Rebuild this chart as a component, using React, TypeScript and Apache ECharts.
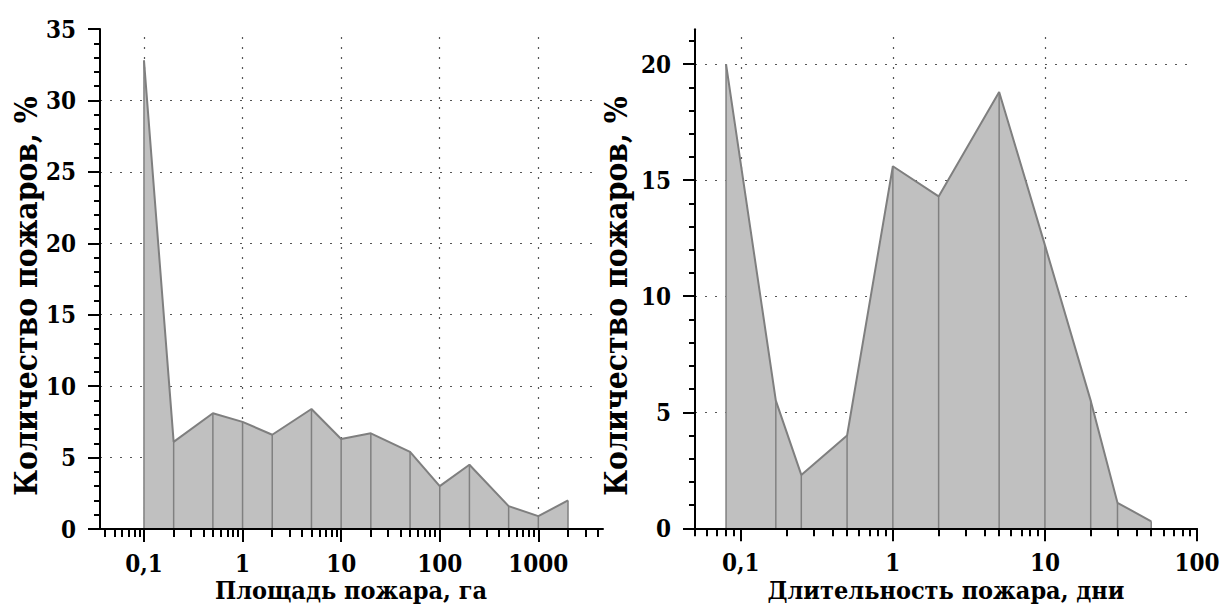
import React, { useEffect, useRef } from 'react';
import * as echarts from 'echarts';

// ---- data ----
const areaValues = [0.1, 0.2, 0.5, 1, 2, 5, 10, 20, 50, 100, 200, 500, 1000, 2000];
const areaShares = [32.8, 6.1, 8.1, 7.5, 6.6, 8.4, 6.3, 6.7, 5.4, 3.0, 4.5, 1.6, 0.9, 2.0];

const durationValues = [0.08, 0.17, 0.25, 0.5, 1, 2, 5, 10, 20, 30, 50];
const durationShares = [20.0, 5.5, 2.3, 4.0, 15.6, 14.3, 18.8, 12.2, 5.5, 1.1, 0.3];

const areaXTicks = [0.1, 1, 10, 100, 1000];
const durationXTicks = [0.1, 1, 10, 100];
const areaXGrid = [0.1, 1, 10, 100, 1000];
const durationXGrid = [0.1, 1, 10];
const areaYTicks = [0, 5, 10, 15, 20, 25, 30, 35];
const durationYTicks = [0, 5, 10, 15, 20];
const areaYGrid = [5, 10, 15, 20, 25, 30];
const durationYGrid = [5, 10, 15, 20];

const xTitleArea = 'Площадь пожара, га';
const xTitleDuration = 'Длительность пожара, дни';
const yTitle = 'Количество пожаров, %';

const FONT = '"DejaVu Serif Condensed", "DejaVu Serif", serif';
const TICK_FONT_SIZE = 24;
const lg = (v: number) => Math.log10(v);

function fmt(v: number): string {
  const r = Number(Math.pow(10, v).toPrecision(3));
  return r < 1 ? String(r).replace('.', ',') : String(Math.round(r));
}

function minorX(min: number, max: number): number[] {
  const out: number[] = [];
  for (let d = Math.floor(lg(min)); d <= Math.ceil(lg(max)); d++) {
    for (let k = 2; k <= 9; k++) {
      const v = k * Math.pow(10, d);
      if (v >= min && v <= max) out.push(lg(v));
    }
  }
  return out;
}

function minorY(max: number): number[] {
  const out: number[] = [];
  for (let v = 1; v <= max; v++) if (v % 5 !== 0) out.push(v);
  return out;
}

type Panel = {
  xs: number[];
  ys: number[];
  xMin: number; // log10
  xMax: number; // log10
  yMax: number;
  xTicks: number[];
  yTicks: number[];
  xGrid: number[];
  yGrid: number[];
  left: number;
  top: number;
  width: number;
  height: number;
  hGridWidth: number;
  vTop: number;
};

function build(p: Panel, g0: number) {
  const bottomY = p.top + p.height;
  const base = { outerBoundsMode: 'none', containLabel: false };
  const grids = [
    { ...base, left: p.left, top: p.top, width: p.width, height: p.height },
    { ...base, left: p.left, top: p.top, width: p.width, height: p.height },
    { ...base, left: p.left, top: p.vTop, width: p.width, height: bottomY - p.vTop },
    { ...base, left: p.left, top: p.top, width: p.hGridWidth, height: p.height },
  ];
  const xTL = p.xTicks.map(lg);
  const xGL = p.xGrid.map(lg);
  const realMin = Math.pow(10, p.xMin);
  const realMax = Math.pow(10, p.xMax);
  const minorXs = minorX(realMin, realMax);
  const minorYs = minorY(Math.floor(p.yMax));
  const dotted = { type: [2, 8] as any, color: '#555', width: 1.2 };
  const none = { show: false };
  const labelStyle = {
    color: '#000', fontFamily: FONT, fontWeight: 'bold', fontSize: TICK_FONT_SIZE,
  };
  const xAxes = [
    {
      type: 'value', gridIndex: g0, min: p.xMin, max: p.xMax, z: 5,
      axisLine: { show: true, onZero: false, lineStyle: { color: '#000', width: 2 } },
      axisTick: { show: true, length: 13, customValues: xTL, lineStyle: { color: '#000', width: 2 } },
      axisLabel: {
        show: true, customValues: xTL, margin: 22, formatter: (v: number) => fmt(v), ...labelStyle,
      },
      splitLine: none,
    },
    {
      type: 'value', gridIndex: g0 + 1, min: p.xMin, max: p.xMax, z: 5,
      axisLine: { show: false, onZero: false },
      axisTick: { show: true, length: 8, customValues: minorXs, lineStyle: { color: '#000', width: 2 } },
      axisLabel: none,
      splitLine: none,
    },
    {
      type: 'value', gridIndex: g0 + 2, min: p.xMin, max: p.xMax, z: 0,
      axisLine: { show: false, onZero: false },
      axisTick: { show: false, customValues: xGL },
      axisLabel: none,
      splitLine: { show: true, customValues: xGL, lineStyle: dotted },
    },
    {
      type: 'value', gridIndex: g0 + 3, min: p.xMin, max: p.xMax, show: false,
    },
  ];
  const yAxes = [
    {
      type: 'value', gridIndex: g0, min: 0, max: p.yMax, z: 5,
      axisLine: { show: true, onZero: false, lineStyle: { color: '#000', width: 2 } },
      axisTick: { show: true, length: 12, customValues: p.yTicks, lineStyle: { color: '#000', width: 2 } },
      axisLabel: { show: true, customValues: p.yTicks, margin: 24, ...labelStyle },
      splitLine: none,
    },
    {
      type: 'value', gridIndex: g0 + 1, min: 0, max: p.yMax, z: 5,
      axisLine: { show: false, onZero: false },
      axisTick: { show: true, length: 6, customValues: minorYs, lineStyle: { color: '#000', width: 2 } },
      axisLabel: none,
      splitLine: none,
    },
    { type: 'value', gridIndex: g0 + 2, min: 0, max: p.yMax, show: false },
    {
      type: 'value', gridIndex: g0 + 3, min: 0, max: p.yMax, z: 0,
      axisLine: { show: false, onZero: false },
      axisTick: { show: false, customValues: p.yGrid },
      axisLabel: none,
      splitLine: { show: true, customValues: p.yGrid, lineStyle: dotted },
    },
  ];
  const data = p.xs.map((x, i) => [lg(x), p.ys[i]]);
  const series = [
    {
      type: 'line', xAxisIndex: g0, yAxisIndex: g0, data, symbol: 'none', silent: true, z: 2,
      lineStyle: { color: '#7f7f7f', width: 2 },
      areaStyle: { color: '#c0c0c0', opacity: 1 },
    },
    {
      type: 'bar', xAxisIndex: g0, yAxisIndex: g0, data, barWidth: 1.5, silent: true, z: 3,
      itemStyle: { color: '#808080' },
    },
  ];
  return { grids, xAxes, yAxes, series };
}

export default function App() {
  const ref = useRef<HTMLDivElement>(null);
  useEffect(() => {
    if (!ref.current) return;
    const chart = echarts.init(ref.current, null, { renderer: 'svg' });
    const a = build(
      {
        xs: areaValues, ys: areaShares, xMin: -1.446, xMax: 3.656, yMax: 35,
        xTicks: areaXTicks, yTicks: areaYTicks, xGrid: areaXGrid, yGrid: areaYGrid,
        left: 100, top: 29, width: 503, height: 500, hGridWidth: 497, vTop: 37,
      },
      0,
    );
    const b = build(
      {
        xs: durationValues, ys: durationShares, xMin: lg(0.05), xMax: 2, yMax: 21.5,
        xTicks: durationXTicks, yTicks: durationYTicks, xGrid: durationXGrid, yGrid: durationYGrid,
        left: 695, top: 29.3, width: 502, height: 499, hGridWidth: 493, vTop: 37,
      },
      4,
    );
    const titleStyle = (size: number) => ({
      fill: '#000', fontFamily: FONT, fontWeight: 'bold', fontSize: size,
      align: 'center', verticalAlign: 'middle',
    });
    chart.setOption({
      animation: false,
      backgroundColor: '#fff',
      grid: [...a.grids, ...b.grids],
      xAxis: [...a.xAxes, ...b.xAxes],
      yAxis: [...a.yAxes, ...b.yAxes],
      series: [...a.series, ...b.series],
      graphic: [
        { type: 'text', x: 25, y: 296, rotation: Math.PI / 2, style: { text: yTitle, ...titleStyle(31.5) } },
        { type: 'text', x: 615, y: 296, rotation: Math.PI / 2, style: { text: yTitle, ...titleStyle(31.5) } },
        { type: 'text', x: 351, y: 590, style: { text: xTitleArea, ...titleStyle(25) } },
        { type: 'text', x: 946, y: 590, style: { text: xTitleDuration, ...titleStyle(25) } },
      ],
    });
    return () => chart.dispose();
  }, []);
  return (
    <div
      ref={ref}
      style={{ position: 'absolute', left: 0, top: 0, width: 1220, height: 608 }}
    />
  );
}
